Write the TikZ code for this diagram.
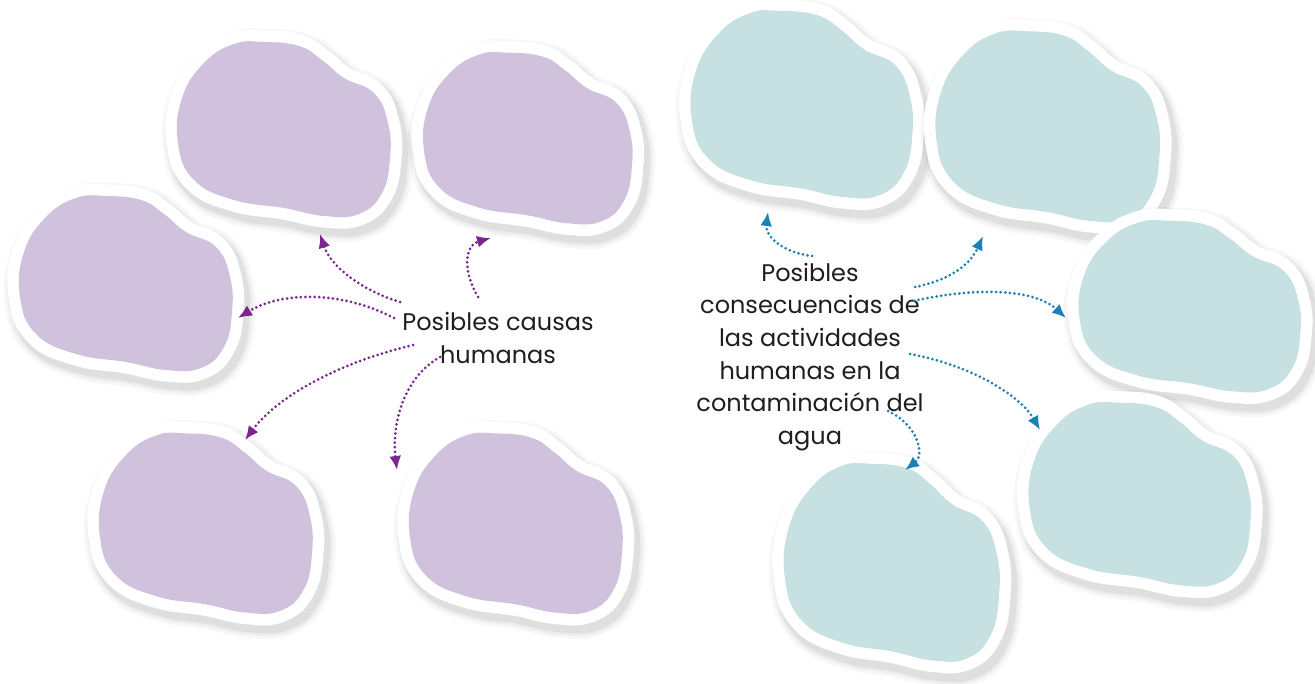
\documentclass[tikz,border=0pt]{standalone}
\usepackage{fontspec}
\setmainfont{Poppins}
\usetikzlibrary{arrows.meta}
\definecolor{lila}{RGB}{208,194,220}
\definecolor{agua}{RGB}{199,224,226}
\definecolor{parrow}{RGB}{122,38,142}
\definecolor{tarrow}{RGB}{28,128,180}
\definecolor{txt}{RGB}{30,30,30}
\def\blobpath{plot[smooth cycle, tension=0.75] coordinates {(-20,-86) (15,-82) (38,-68) (60,-50) (90,-35) (104,-5) (106,30) (98,65) (75,86) (40,88) (0,80) (-50,72) (-90,52) (-106,15) (-102,-30) (-80,-65) (-50,-84)}}
\newcommand\myblob[6]{%
\begin{scope}[shift={(#1,#2)},xscale=#3,yscale=#4,rotate=#5]
 \foreach \w/\o in {38/0.03,32/0.04,27/0.06}{
  \path[fill=black, draw=black, line width=\w pt, opacity=\o, line join=round, shift={(4,6)}] \blobpath;}
 \path[fill=white, draw=white, line width=23pt, line join=round] \blobpath;
 \path[fill=#6] \blobpath;
\end{scope}}
\tikzset{
 parr/.style={draw=parrow, line width=3pt, line cap=round, dash pattern=on 0pt off 4.6pt, -{Latex[length=14pt,width=12pt,fill=parrow,sharp]}},
 tarr/.style={parr, draw=tarrow, -{Latex[length=14pt,width=12pt,fill=tarrow,sharp]}},
 lbl/.style={font=\fontsize{24}{32.6}\selectfont, align=center, text=txt, inner sep=0pt}
}
\begin{document}
\begin{tikzpicture}[x=1pt,y=-1pt]
\useasboundingbox (0,0) rectangle (1315,684);
\fill[white] (0,0) rectangle (1315,684);
% purple blobs
\myblob{284}{128}{1}{1}{0}{lila}
\myblob{528}{137}{0.98}{0.98}{0}{lila}
\myblob{126}{282}{1}{1}{0}{lila}
\myblob{206}{522}{1}{1.03}{0}{lila}
\myblob{516}{522}{1}{1.03}{0}{lila}
% teal blobs
\myblob{802}{103}{1.04}{1.07}{0}{agua}
\myblob{1048}{125}{1.05}{1.09}{0}{agua}
\myblob{1190}{305}{1.04}{0.98}{0}{agua}
\myblob{1140}{493}{1.04}{1.05}{0}{agua}
\myblob{892}{561}{1.01}{1.13}{0}{agua}
% labels
\node[lbl] (causas) at (498,338) {Posibles causas\\humanas};
\node[lbl] (conse) at (810,357) {Posibles\\consecuencias de\\las actividades\\humanas en la\\contaminación del\\agua};
% arrow ends
\coordinate (a1s) at (400,302); \coordinate (a1e) at (320,234);
\coordinate (a2s) at (478,297); \coordinate (a2e) at (491,238);
\coordinate (a3s) at (394,318); \coordinate (a3e) at (238,318);
\coordinate (a4s) at (413,345); \coordinate (a4e) at (245,440);
\coordinate (a5s) at (440,357); \coordinate (a5e) at (397,470);
\coordinate (b1s) at (812,256); \coordinate (b1e) at (768,212);
\coordinate (b2s) at (915,287); \coordinate (b2e) at (983,236);
\coordinate (b3s) at (914,301); \coordinate (b3e) at (1066,318);
\coordinate (b4s) at (910,354); \coordinate (b4e) at (1040,430);
\coordinate (b5s) at (888,411); \coordinate (b5e) at (905,470);
\draw[parr] (a1s) .. controls (360,290) and (330,265) .. (a1e);
\draw[parr] (a2s) .. controls (462,270) and (465,245) .. (a2e);
\draw[parr] (a3s) .. controls (340,290) and (280,292) .. (a3e);
\draw[parr] (a4s) .. controls (330,365) and (275,400) .. (a4e);
\draw[parr] (a5s) .. controls (400,380) and (392,430) .. (a5e);
\draw[tarr] (b1s) .. controls (780,252) and (765,235) .. (b1e);
\draw[tarr] (b2s) .. controls (950,280) and (970,265) .. (b2e);
\draw[tarr] (b3s) .. controls (960,290) and (1030,285) .. (b3e);
\draw[tarr] (b4s) .. controls (970,365) and (1020,395) .. (b4e);
\draw[tarr] (b5s) .. controls (918,425) and (925,455) .. (b5e);
\end{tikzpicture}
\end{document}
